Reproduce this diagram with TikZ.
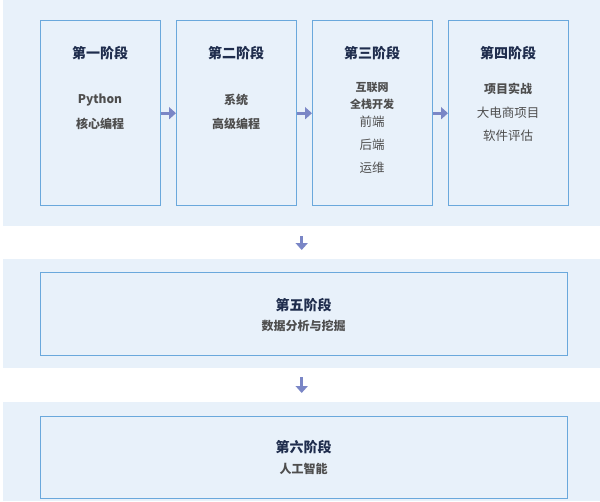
\documentclass[tikz,border=0pt]{standalone}
\usepackage{fontspec}
\setmainfont{Noto Sans CJK SC}
\usetikzlibrary{arrows.meta}
\definecolor{panelbg}{HTML}{E8F1FA}
\definecolor{boxline}{HTML}{6AA8DC}
\definecolor{arrowc}{HTML}{7A86C6}
\definecolor{titlec}{HTML}{1F2D4D}
\definecolor{bodyc}{HTML}{4E4E4E}
\tikzset{
  panel/.style={fill=panelbg, draw=none, inner sep=0pt, anchor=north west},
  stagebox/.style={draw=boxline, line width=1.4pt, fill=panelbg, inner sep=0pt, anchor=north west},
  ttl/.style={text=titlec, font=\fontsize{14}{16}\selectfont\bfseries, inner sep=0pt},
  sub/.style={text=bodyc, font=\fontsize{12}{14}\selectfont\bfseries, inner sep=0pt},
  subs/.style={text=bodyc, font=\fontsize{11}{13}\selectfont\bfseries, inner sep=0pt},
  reg/.style={text=bodyc, font=\fontsize{12.5}{14}\selectfont, inner sep=0pt},
  arr/.style={draw=arrowc, line width=3pt, -{Triangle[width=12pt,length=7pt]}}
}
\begin{document}
\begin{tikzpicture}[x=1pt,y=-1pt]
\useasboundingbox (0,0) rectangle (600,501);
% panels
\node[panel, minimum width=597pt, minimum height=226pt] (p1) at (3,0) {};
\node[panel, minimum width=597pt, minimum height=109pt] (p2) at (3,259) {};
\node[panel, minimum width=597pt, minimum height=99pt] (p3) at (3,402) {};
% top boxes
\node[stagebox, minimum width=120pt, minimum height=185pt] (b1) at (40,20) {};
\node[stagebox, minimum width=120pt, minimum height=185pt] (b2) at (176,20) {};
\node[stagebox, minimum width=120pt, minimum height=185pt] (b3) at (312,20) {};
\node[stagebox, minimum width=120pt, minimum height=185pt] (b4) at (448,20) {};
\node[stagebox, minimum width=527pt, minimum height=83pt] (b5) at (40,272) {};
\node[stagebox, minimum width=527pt, minimum height=82pt] (b6) at (40,416) {};
% texts box1
\node[ttl] (t1) at (100,53) {第一阶段};
\node[sub] (t1a) at (100,100) {Python};
\node[sub] (t1b) at (100,124) {核心编程};
% box2
\node[ttl] (t2) at (236,53) {第二阶段};
\node[sub] (t2a) at (236,100) {系统};
\node[sub] (t2b) at (236,124) {高级编程};
% box3
\node[ttl] (t3) at (372,53) {第三阶段};
\node[subs] (t3a) at (372,87) {互联网};
\node[subs] (t3b) at (372,104) {全栈开发};
\node[reg] (t3c) at (372,122) {前端};
\node[reg] (t3d) at (372,145) {后端};
\node[reg] (t3e) at (372,168) {运维};
% box4
\node[ttl] (t4) at (508,53) {第四阶段};
\node[sub] (t4a) at (508,89) {项目实战};
\node[reg] (t4b) at (508,113) {大电商项目};
\node[reg] (t4c) at (508,136) {软件评估};
% box5, box6
\node[ttl] (t5) at (303.5,305) {第五阶段};
\node[sub] (t5a) at (303.5,326) {数据分析与挖掘};
\node[ttl] (t6) at (303.5,447) {第六阶段};
\node[sub] (t6a) at (303.5,469) {人工智能};
% arrows
\draw[arr] (b1.east) -- (b2.west);
\draw[arr] (b2.east) -- (b3.west);
\draw[arr] (b3.east) -- (b4.west);
\draw[arr, shorten <=10pt, shorten >=9pt] (p1.south) -- (p2.north);
\draw[arr, shorten <=9pt, shorten >=9pt] (p2.south) -- (p3.north);
\end{tikzpicture}
\end{document}
